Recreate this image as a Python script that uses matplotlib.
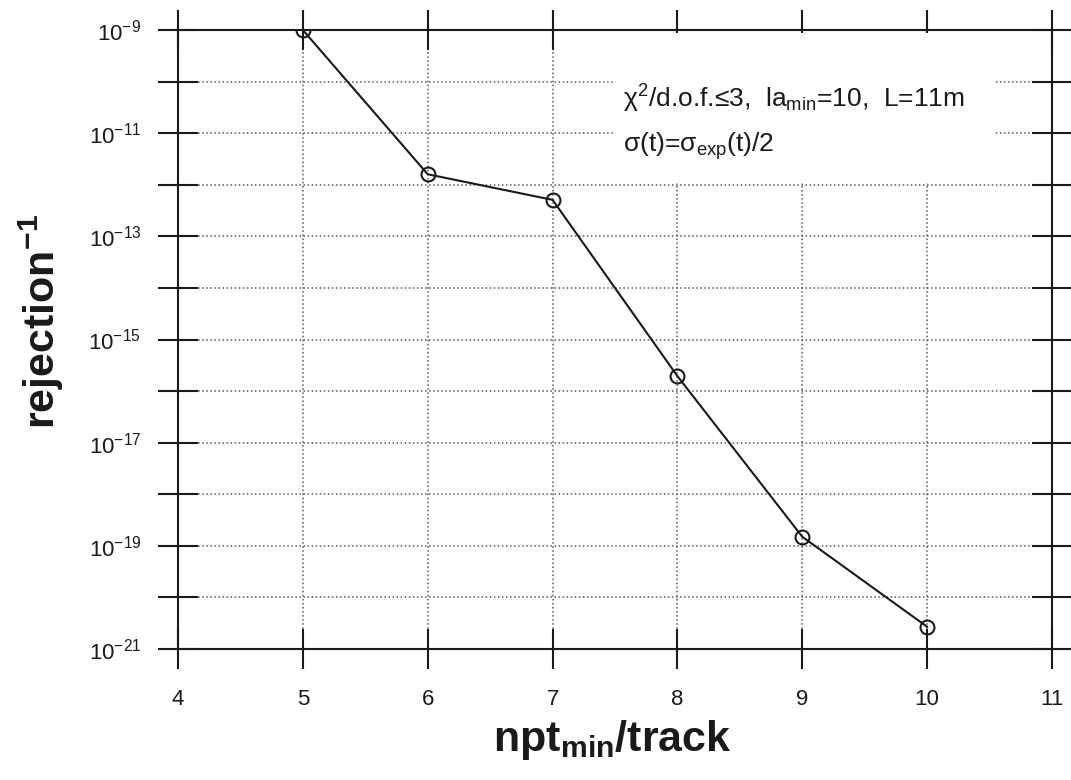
import matplotlib
matplotlib.use("Agg")
import matplotlib.pyplot as plt
from matplotlib.patches import Rectangle

# values
npt_min = [5, 6, 7, 8, 9, 10]
rejection_inv = [1.0e-9, 1.6e-12, 5.1e-13, 1.95e-16, 1.5e-19, 2.7e-21]

x_ticks = [4, 5, 6, 7, 8, 9, 10, 11]
y_exponents = list(range(-21, -8))          # one tick per decade
y_labelled = [-21, -19, -17, -15, -13, -11, -9]

note_1 = r'χ$^2$/d.o.f.≤3,  la$_{min}$=10,  L=11m'
note_2 = r'σ(t)=σ$_{exp}$(t)/2'

plt.rcParams['font.family'] = ['Liberation Sans', 'DejaVu Sans']
plt.rcParams['mathtext.default'] = 'regular'

ink = '#1a1a1a'

fig = plt.figure(figsize=(10.71, 7.80), dpi=100)
ax = fig.add_axes([0.1662, 0.1679, 0.8161, 0.7936])

ax.semilogy(npt_min, rejection_inv, color=ink, lw=1.5, marker='o', ms=10,
            mfc='none', mec=ink, mew=1.5, zorder=3)

ax.set_xlim(4, 11)
ax.set_ylim(1e-21, 1e-9)
ax.set_xticks(x_ticks)
ax.set_xticklabels([str(v) for v in x_ticks])
ax.set_yticks([10.0 ** e for e in y_exponents])
ax.set_yticklabels([f'$10^{{{e}}}$' if e in y_labelled else '' for e in y_exponents])
ax.yaxis.set_minor_locator(plt.NullLocator())

ax.tick_params(direction='inout', length=29, width=1.5, color=ink,
               top=True, right=True, labelsize=16, labelcolor=ink)
ax.tick_params(axis='x', pad=14)
ax.tick_params(axis='y', pad=12)

ax.grid(True, ls=':', lw=1.1, color='0.35')
for s in ax.spines.values():
    s.set_linewidth(1.5)
    s.set_color(ink)

# white patch behind the annotation hides the grid there
ax.add_patch(Rectangle((0.5, 0.753), 0.435, 0.242, transform=ax.transAxes,
                       fc='white', ec='none', zorder=1.8))
ax.text(0.509, 0.874, note_1, transform=ax.transAxes, fontsize=19,
        color=ink, va='baseline', zorder=4)
ax.text(0.509, 0.803, note_2, transform=ax.transAxes, fontsize=19,
        color=ink, va='baseline', zorder=4)

ax.set_xlabel(r'npt$_{min}$/track', fontsize=31, fontweight='bold', color=ink)
ax.xaxis.set_label_coords(0.497, -0.112)
ax.set_ylabel(r'rejection$^{-1}$', fontsize=31, fontweight='bold', color=ink)
ax.yaxis.set_label_coords(-0.128, 0.53)

fig.savefig('out.png', dpi=100)
